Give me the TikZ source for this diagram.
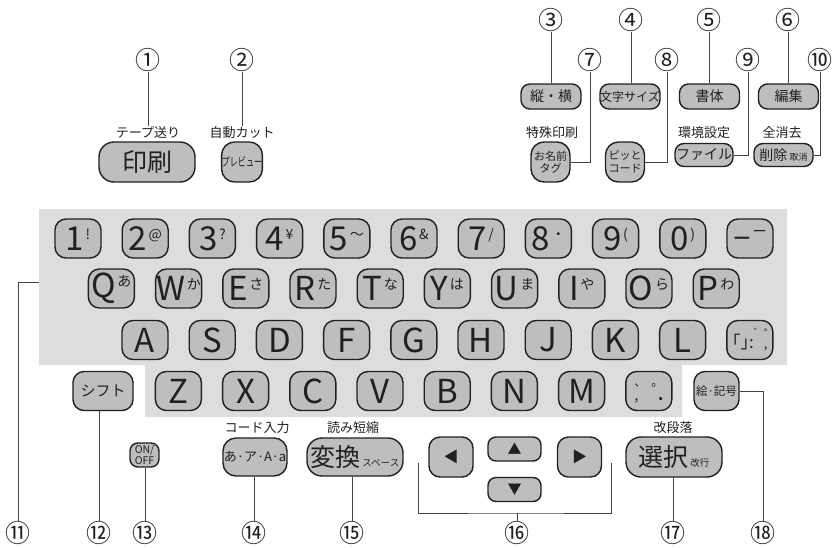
\documentclass[tikz,border=0pt]{standalone}
\usepackage{fontspec}
\setmainfont{Noto Sans CJK JP}
\definecolor{ink}{HTML}{231F20}
\definecolor{keygray}{HTML}{BDBEC0}
\definecolor{panelgray}{HTML}{DCDDDF}
\newcommand{\fsz}[1]{\fontsize{#1}{#1}\selectfont}
\newcommand{\kb}[2]{{\fsz{33}#1}\,\raisebox{11pt}{\fsz{14}#2}}
\newcommand{\ksub}[2]{{\fsz{25}#1}\,{\fsz{9.5}#2}}

\begin{document}
\begin{tikzpicture}[x=1pt, y=-1pt]
        \tikzstyle{kbkey} = [rectangle, draw=ink, fill=keygray, line width=1.4pt, rounded corners=11pt, minimum width=46pt, minimum height=39pt, inner sep=0pt, text=ink]
        \tikzstyle{letter} = [kbkey, font=\fsz{33}]
        \tikzstyle{wide} = [kbkey, minimum width=96pt, minimum height=40pt, rounded corners=15pt]
        \tikzstyle{flat} = [kbkey, minimum width=60pt, minimum height=25pt, rounded corners=9pt, font=\fsz{14}]
        \tikzstyle{twoline} = [kbkey, minimum width=39pt, minimum height=40pt, rounded corners=13pt, align=center, font=\fontsize{11}{12.5}\selectfont]
        \tikzstyle{numlbl} = [inner sep=0pt, text=ink, font=\fsz{25}]
        \tikzstyle{toplbl} = [inner sep=1pt, text=ink, font=\fsz{13}]
        \tikzstyle{lead} = [draw=ink!85, line width=0.9pt]
        \useasboundingbox (0,0) rectangle (833,547);
        % keyboard panel
        \fill[panelgray] (39,209) -- (787,209) -- (787,365) -- (682,365) -- (682,417) -- (145,417) -- (145,365) -- (39,365) -- cycle;
        \coordinate (pnl) at (39,282);
        % top keys
        \node [numlbl] (n1) at (148,60) {①};
        \node [toplbl] (lbl1) at (148,133) {テープ送り};
        \node [wide, font=\fsz{25}] (print) at (147,162) {印刷};
        \node [numlbl] (n2) at (242,60) {②};
        \node [toplbl] (lbl2) at (242,133) {自動カット};
        \node [kbkey, minimum width=39pt, minimum height=40pt, rounded corners=13pt] (prev) at (242,162) {\scalebox{0.68}[1]{\fsz{12}プレビュー}};
        \node [numlbl] (n3) at (551,20) {③};
        \node [flat] (tate) at (551,96.5) {縦・横};
        \node [numlbl] (n4) at (631,20) {④};
        \node [flat, font=\fsz{12}] (moji) at (630,96.5) {文字サイズ};
        \node [numlbl] (n5) at (709,20) {⑤};
        \node [flat] (shotai) at (709.5,96.5) {書体};
        \node [numlbl] (n6) at (788,20) {⑥};
        \node [flat] (hensyu) at (788.5,96.5) {編集};
        \node [numlbl] (n7) at (590,60) {⑦};
        \node [toplbl] (lbl7) at (552,133) {特殊印刷};
        \node [twoline] (tag) at (550.5,162) {お名前\\タグ};
        \node [numlbl] (n8) at (667,60) {⑧};
        \node [twoline] (pitto) at (625,162) {ピッと\\コード};
        \node [numlbl] (n9) at (748,60) {⑨};
        \node [toplbl] (lbl9) at (704,133) {環境設定};
        \node [flat, minimum width=58pt, minimum height=23pt] (file) at (704,155) {ファイル};
        \node [numlbl] (n10) at (820,60) {⑩};
        \node [toplbl] (lbl10) at (782,133) {全消去};
        \node [flat, minimum width=59pt, minimum height=23pt] (del) at (783.5,155) {削除\,{\fsz{9}取消}};
        % row 1
        \node [kbkey] (k1) at (78,238.5) {\kb{1}{!}};
        \node [kbkey] (k2) at (145.2,238.5) {\kb{2}{@}};
        \node [kbkey] (k3) at (212.4,238.5) {\kb{3}{?}};
        \node [kbkey] (k4) at (279.6,238.5) {\kb{4}{¥}};
        \node [kbkey] (k5) at (346.8,238.5) {\kb{5}{〜}};
        \node [kbkey] (k6) at (414,238.5) {\kb{6}{\&}};
        \node [kbkey] (k7) at (481.2,238.5) {\kb{7}{/}};
        \node [kbkey] (k8) at (548.4,238.5) {\kb{8}{・}};
        \node [kbkey] (k9) at (615.6,238.5) {\kb{9}{(}};
        \node [kbkey] (k0) at (682.8,238.5) {\kb{0}{)}};
        \node [kbkey] (kdash) at (750,238.5) {\kb{–}{ー}};
        % row 2
        \node [kbkey] (kq) at (111.4,288.5) {\kb{Q}{あ}};
        \node [kbkey] (kw) at (178.6,288.5) {\kb{W}{か}};
        \node [kbkey] (ke) at (245.8,288.5) {\kb{E}{さ}};
        \node [kbkey] (kr) at (313,288.5) {\kb{R}{た}};
        \node [kbkey] (kt) at (380.2,288.5) {\kb{T}{な}};
        \node [kbkey] (ky) at (447.4,288.5) {\kb{Y}{は}};
        \node [kbkey] (ku) at (514.6,288.5) {\kb{U}{ま}};
        \node [kbkey] (ki) at (581.8,288.5) {\kb{I}{や}};
        \node [kbkey] (ko) at (649,288.5) {\kb{O}{ら}};
        \node [kbkey] (kp) at (716.2,288.5) {\kb{P}{わ}};
        % row 3
        \node [letter] (ka) at (145,340) {A};
        \node [letter] (ks) at (212.2,340) {S};
        \node [letter] (kd) at (279.4,340) {D};
        \node [letter] (kf) at (346.6,340) {F};
        \node [letter] (kg) at (413.8,340) {G};
        \node [letter] (kh) at (481,340) {H};
        \node [letter] (kj) at (548.2,340) {J};
        \node [letter] (kk) at (615.4,340) {K};
        \node [letter] (kl) at (682.6,340) {L};
        \node [kbkey] (kbrk) at (749.8,340) {{\fsz{17}｢｣:}\begin{tabular}[b]{@{}r@{}}\fsz{10}゛°\\\fsz{13},\end{tabular}};
        % row 4
        \node [letter] (kz) at (178.4,391) {Z};
        \node [letter] (kx) at (245.6,391) {X};
        \node [letter] (kc) at (312.8,391) {C};
        \node [letter] (kv) at (380,391) {V};
        \node [letter] (kb) at (447.2,391) {B};
        \node [letter] (kn) at (514.4,391) {N};
        \node [letter] (km) at (581.6,391) {M};
        \node [kbkey] (kpunct) at (648.8,391) {\begin{tabular}{@{}l@{\hspace{5pt}}r@{}}\fsz{12}、&\fsz{12}。\\[2pt]\fsz{15},&\fsz{15}\textbf{.}\end{tabular}};
        % bottom keys
        \node [kbkey, minimum width=60pt, font=\fsz{15}] (shift) at (103,391) {シフト};
        \node [kbkey, minimum width=45pt, font=\fsz{11.5}] (eki) at (716.5,391) {絵·記号};
        \node [kbkey, minimum width=29pt, minimum height=24pt, rounded corners=8pt, align=center, font=\fontsize{10.5}{9.5}\selectfont] (onoff) at (144.5,455) {ON/\\OFF};
        \node [toplbl] (lbl14) at (257,428) {コード入力};
        \node [kbkey, minimum width=64pt, minimum height=38pt, rounded corners=13pt, font=\fsz{13}] (kana) at (255,457) {あ·ア·A·a};
        \node [toplbl] (lbl15) at (353,428) {読み短縮};
        \node [wide, minimum height=38pt] (henkan) at (355,457) {\ksub{変換}{スペース}};
        \node [kbkey, minimum width=44pt, minimum height=40pt, font=\fsz{15}] (left) at (451,457) {◀};
        \node [kbkey, minimum width=53pt, minimum height=24pt, rounded corners=8pt, font=\fsz{14}] (up) at (514.5,449) {▲};
        \node [kbkey, minimum width=53pt, minimum height=24pt, rounded corners=8pt, font=\fsz{14}] (down) at (514.5,489.5) {▼};
        \node [kbkey, minimum width=44pt, minimum height=40pt, font=\fsz{15}] (right) at (579.5,457) {▶};
        \node [toplbl] (lbl17) at (673,428) {改段落};
        \node [wide] (sentaku) at (674,457) {\ksub{選択}{改行}};
        % bottom numbers
        \node [numlbl] (n11) at (18,533) {⑪};
        \node [numlbl] (n12) at (99,533) {⑫};
        \node [numlbl] (n13) at (145,533) {⑬};
        \node [numlbl] (n14) at (254,533) {⑭};
        \node [numlbl] (n15) at (352,533) {⑮};
        \node [numlbl] (n16) at (517,533) {⑯};
        \node [numlbl] (n17) at (673,533) {⑰};
        \node [numlbl] (n18) at (763,533) {⑱};
        \coordinate (brl) at (418,463);
        \coordinate (brr) at (611,463);
        \coordinate (brm) at (517,513);
        % leaders
        \draw [lead] (n1) -- (n1 |- lbl1.north); \draw [lead] (n2) -- (n2 |- lbl2.north);
        \draw [lead] (n3) -- (n3 |- tate.north); \draw [lead] (n4) -- (n4 |- moji.north);
        \draw [lead] (n5) -- (n5 |- shotai.north); \draw [lead] (n6) -- (n6 |- hensyu.north);
        \draw [lead] (n7) |- (tag); \draw [lead] (n8) |- (pitto);
        \draw [lead] (n9) |- (file); \draw [lead] (n10) |- (del);
        \draw [lead] (n11) |- (pnl);
        \draw [lead] (n12) -- (n12 |- shift.south); \draw [lead] (n13) -- (n13 |- onoff.south);
        \draw [lead] (n14) -- (n14 |- kana.south); \draw [lead] (n15) -- (n15 |- henkan.south);
        \draw [lead] (brl) |- (brm) -| (brr); \draw [lead] (brm) -- (n16);
        \draw [lead] (n17) -- (n17 |- sentaku.south);
        \draw [lead] (eki) -| (n18);
    \end{tikzpicture}
\end{document}
